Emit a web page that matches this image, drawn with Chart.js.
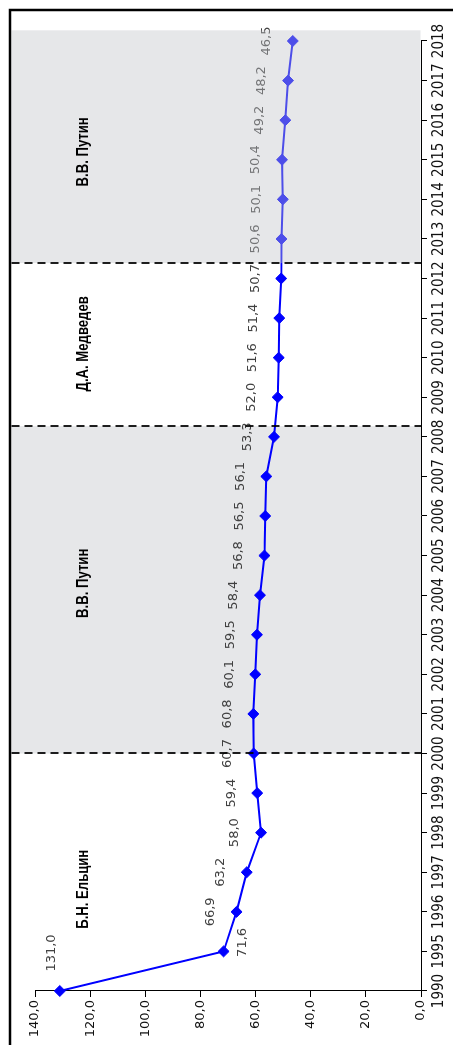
<!DOCTYPE html>
<html>
<head>
<meta charset="utf-8">
<script src="https://cdn.jsdelivr.net/npm/chart.js@4.4.0/dist/chart.umd.min.js"></script>
<style>
html,body{margin:0;padding:0;background:#fff;overflow:hidden;}
#wrap{position:absolute;left:0;top:0;width:1045px;height:453px;transform-origin:0 0;transform:translate(0,1045px) rotate(-90deg);}
</style>
</head>
<body>
<div id="wrap"><canvas id="chart" width="1045" height="453"></canvas></div>
<script>
const years = ["1990","1995","1996","1997","1998","1999","2000","2001","2002","2003","2004","2005",
  "2006","2007","2008","2009","2010","2011","2012","2013","2014","2015","2016","2017","2018"];
const values = [131.0,71.6,66.9,63.2,58.0,59.4,60.7,60.8,60.1,59.5,58.4,56.8,
  56.5,56.1,53.3,52.0,51.6,51.4,50.7,50.6,50.1,50.4,49.2,48.2,46.5];
const yMax = 140;
const yStep = 20;

// сроки (в долях индекса категорий)
const termNames = ["Б.Н. Ельцин","В.В. Путин","Д.А. Медведев","В.В. Путин"];
const termStart = [0,6,14.27,18.39];
const termEnd = [6,14.27,18.39,24.27];
const termShaded = [false,true,false,true];
const termLabelAt = [2.57,10.3,16.35,21.2];
const termLabelValue = 122.4;
const bandTop = 148.5;

const fmt = v => v.toFixed(1).replace(".", ",");

// сдвиг подписей значений
const labelShift = {0:[38,-8.5], 1:[9,19]};

const terms = {
  id:"terms",
  beforeDatasetsDraw(chart){
    const {ctx, scales:{x,y}} = chart;
    const top = y.getPixelForValue(bandTop);
    const bot = y.getPixelForValue(0);
    ctx.save();
    ctx.fillStyle = "#e6e7e9";
    for(let i=0;i<termNames.length-1;i++){
      if(!termShaded[i]) continue;
      const x1 = x.getPixelForValue(termStart[i]);
      const x2 = x.getPixelForValue(termEnd[i]);
      ctx.fillRect(x1, top, x2-x1, bot-top);
    }
    ctx.restore();
  },
  afterDatasetsDraw(chart){
    const {ctx, scales:{x,y}} = chart;
    const meta = chart.getDatasetMeta(0);
    ctx.save();
    ctx.font = '13px "DejaVu Sans"';
    ctx.fillStyle = "#404040";
    ctx.textAlign = "center";
    ctx.textBaseline = "middle";
    meta.data.forEach((p,i)=>{
      const s = labelShift[i] || [0,-26];
      ctx.fillText(fmt(values[i]), p.x+s[0], p.y+s[1]);
    });

    const top = y.getPixelForValue(bandTop);
    const bot = y.getPixelForValue(0);
    // последний срок поверх линии
    const last = termNames.length-1;
    const lx1 = x.getPixelForValue(termStart[last]);
    const lx2 = x.getPixelForValue(termEnd[last]);
    ctx.fillStyle = "rgba(193,195,200,0.4)";
    ctx.fillRect(lx1, top, lx2-lx1, bot-top-0.5);

    ctx.strokeStyle = "#000";
    ctx.lineWidth = 1.75;
    ctx.setLineDash([8,5]);
    for(let i=1;i<termStart.length;i++){
      const px = Math.round(x.getPixelForValue(termStart[i]));
      ctx.beginPath();
      ctx.moveTo(px, top);
      ctx.lineTo(px, bot);
      ctx.stroke();
    }
    ctx.setLineDash([]);

    // узкий жирный шрифт: сжимаем по горизонтали
    ctx.font = 'bold 16px "Liberation Sans Narrow", "Liberation Sans", sans-serif';
    ctx.fillStyle = "#000";
    termNames.forEach((n,i)=>{
      const px = x.getPixelForValue(termLabelAt[i]);
      const py = y.getPixelForValue(termLabelValue);
      ctx.save();
      ctx.translate(px, py);
      ctx.scale(0.82, 1);
      ctx.fillText(n, 0, 0);
      ctx.restore();
    });
    ctx.restore();
  },
  afterDraw(chart){
    const ctx = chart.ctx;
    ctx.save();
    ctx.strokeStyle = "#000";
    ctx.lineWidth = 2.5;
    ctx.beginPath();
    ctx.moveTo(0,10);
    ctx.lineTo(1035,10);
    ctx.lineTo(1035,453);
    ctx.stroke();
    ctx.restore();
  }
};

new Chart(document.getElementById("chart"),{
  type:"line",
  data:{
    labels:years,
    datasets:[{
      data:values,
      borderColor:"#0000ff",
      backgroundColor:"#0000ff",
      borderWidth:2,
      pointStyle:"rectRot",
      pointRadius:5.5,
      pointBorderWidth:1,
      tension:0
    }]
  },
  options:{
    responsive:false,
    animation:false,
    layout:{padding:{top:35,right:41,left:0,bottom:0}},
    plugins:{legend:{display:false},tooltip:{enabled:false}},
    scales:{
      x:{
        offset:false,
        grid:{drawOnChartArea:false,drawTicks:true,tickLength:6,color:"#000"},
        border:{display:true,color:"#000",width:1},
        ticks:{
          font:{family:'"Liberation Sans Narrow", "DejaVu Sans Condensed", sans-serif',size:15},
          color:"#111",maxRotation:0,autoSkip:false,padding:3
        },
        afterFit(s){ s.height = 32; }
      },
      y:{
        min:0,
        max:yMax,
        grid:{drawOnChartArea:false,drawTicks:true,tickLength:6,color:"#000"},
        border:{display:true,color:"#000",width:1},
        ticks:{
          stepSize:yStep,
          font:{family:'"DejaVu Sans"',size:13},
          color:"#111",padding:3,
          callback:v=>fmt(v)
        },
        afterFit(s){ s.width = 54; }
      }
    }
  },
  plugins:[terms]
});
</script>
</body>
</html>
